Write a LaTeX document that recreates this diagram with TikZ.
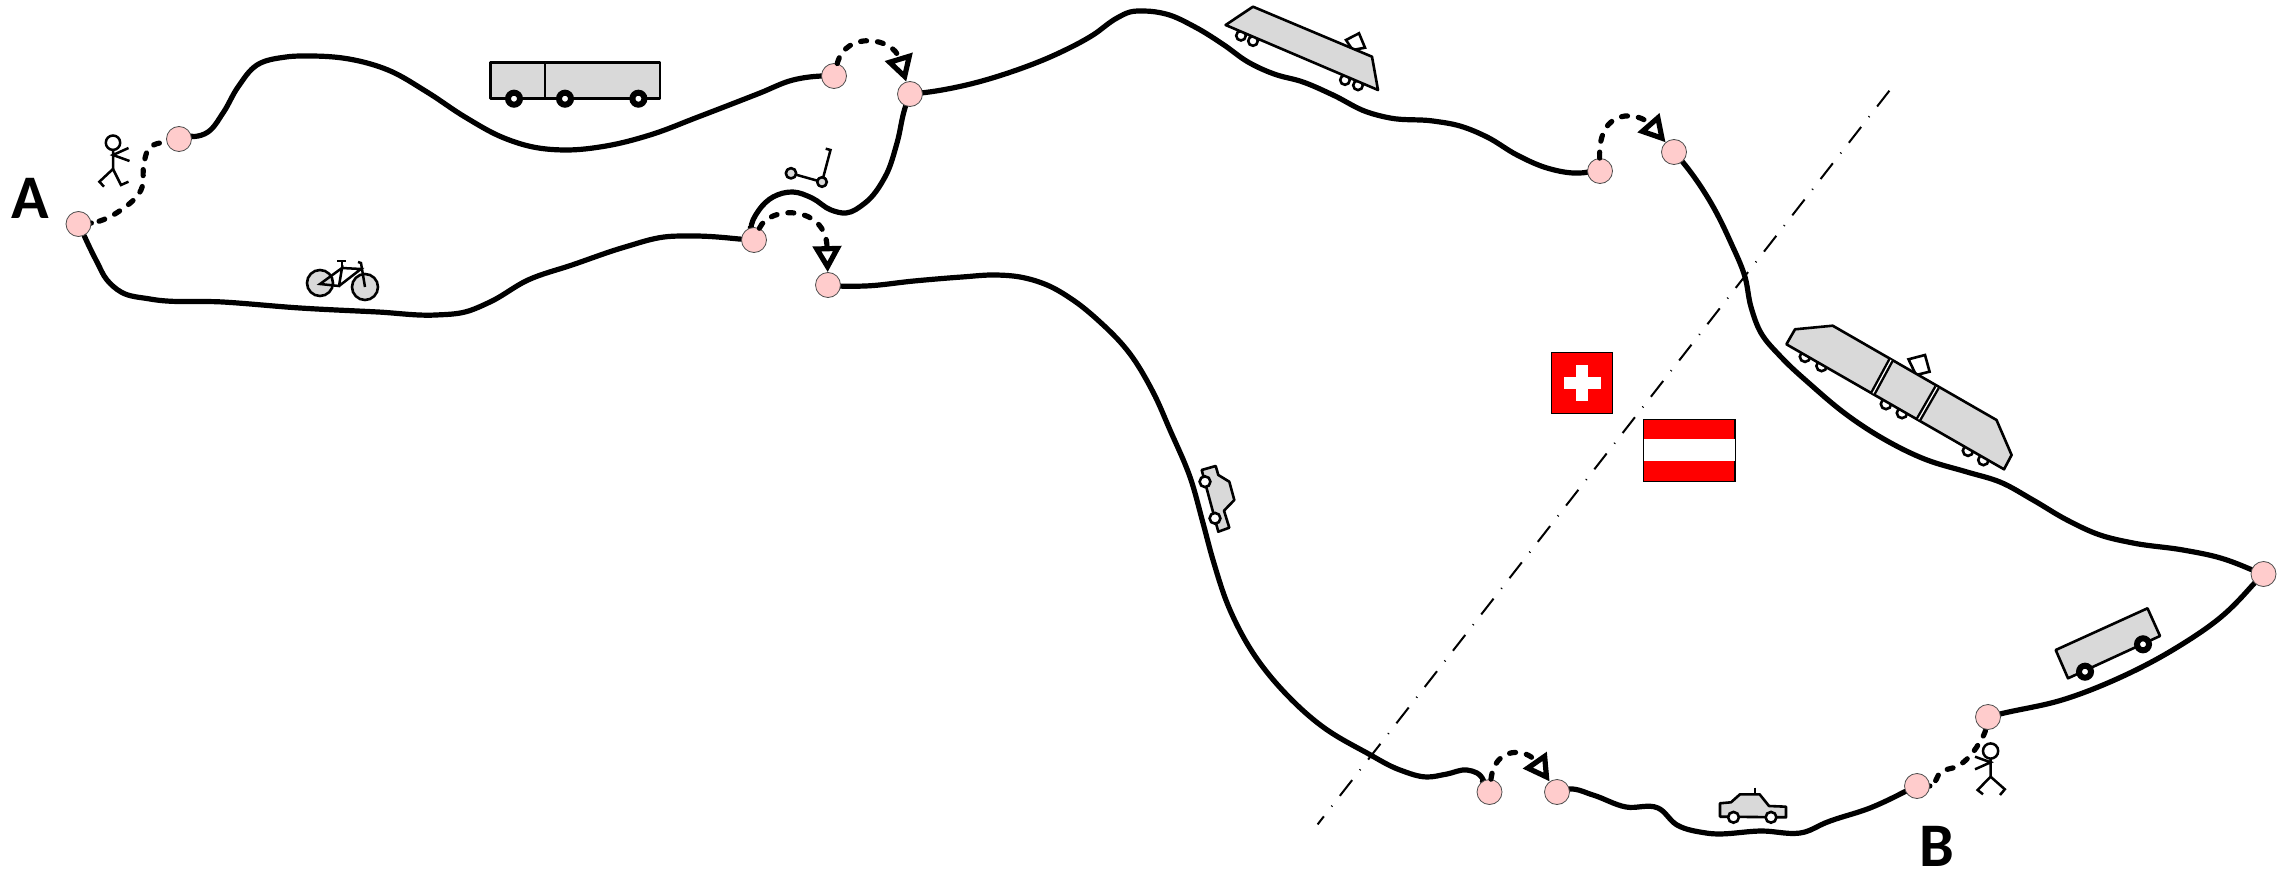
\documentclass[tikz,border=0pt]{standalone}
\usepackage{fontspec}
\setmainfont{Carlito}
\usetikzlibrary{arrows.meta,backgrounds}
\definecolor{stopfill}{HTML}{FFCCCC}
\definecolor{bodygray}{HTML}{D9D9D9}
\definecolor{flagred}{HTML}{FF0000}
% a smooth curve through waypoints, for use as a to path
\newcount\spn
\newcount\spi
\def\spX#1{\csname spx#1\endcsname}
\def\spY#1{\csname spy#1\endcsname}
\newcommand\sptan[1]{%
  \pgfmathtruncatemacro\spia{#1-1}%
  \pgfmathtruncatemacro\spib{#1+1}%
  \ifnum#1=1 \edef\spia{#1}\fi
  \ifnum#1=\spn \edef\spib{#1}\fi
  \pgfmathsetmacro\spax{\spX{#1}-\spX{\spia}}%
  \pgfmathsetmacro\spay{\spY{#1}-\spY{\spia}}%
  \pgfmathsetmacro\spbx{\spX{\spib}-\spX{#1}}%
  \pgfmathsetmacro\spby{\spY{\spib}-\spY{#1}}%
  \ifnum#1=1 \let\sptx\spbx \let\spty\spby
  \else\ifnum#1=\spn \let\sptx\spax \let\spty\spay
  \else
    \pgfmathsetmacro\spda{veclen(\spax,\spay)}%
    \pgfmathsetmacro\spdb{veclen(\spbx,\spby)}%
    \pgfmathsetmacro\sptx{\spax*(\spdb/\spda)+\spbx*(\spda/\spdb)}%
    \pgfmathsetmacro\spty{\spay*(\spdb/\spda)+\spby*(\spda/\spdb)}%
  \fi\fi
  \pgfmathsetmacro\spnn{veclen(\sptx,\spty)}%
  \pgfmathsetmacro\spux{\sptx/\spnn}%
  \pgfmathsetmacro\spuy{\spty/\spnn}%
  \expandafter\xdef\csname spux#1\endcsname{\spux}%
  \expandafter\xdef\csname spuy#1\endcsname{\spuy}%
}
\newcommand\buildspline[1]{%
  \global\spn=0
  \foreach \qx/\qy in {#1}{%
    \global\advance\spn by 1
    \expandafter\xdef\csname spx\the\spn\endcsname{\qx}%
    \expandafter\xdef\csname spy\the\spn\endcsname{\qy}}%
  \spi=1
  \loop\ifnum\spi<\spn\relax
    \expandafter\sptan\expandafter{\the\spi}%
    \advance\spi by 1
  \repeat
  \expandafter\sptan\expandafter{\the\spn}%
  \gdef\splinetail{}%
  \spi=1
  \loop\ifnum\spi<\spn\relax
    \edef\spa{\the\spi}%
    \pgfmathtruncatemacro\spb{\spi+1}%
    \pgfmathsetmacro\spd{veclen(\spX{\spb}-\spX{\spa},\spY{\spb}-\spY{\spa})/3}%
    \pgfmathsetmacro\cax{\spX{\spa}+\csname spux\spa\endcsname*\spd}%
    \pgfmathsetmacro\cay{\spY{\spa}+\csname spuy\spa\endcsname*\spd}%
    \pgfmathsetmacro\cbx{\spX{\spb}-\csname spux\spb\endcsname*\spd}%
    \pgfmathsetmacro\cby{\spY{\spb}-\csname spuy\spb\endcsname*\spd}%
    \ifnum\spb=\spn
      \xdef\splinetail{\splinetail .. controls (\cax,\cay) and (\cbx,\cby) ..}%
    \else
      \xdef\splinetail{\splinetail .. controls (\cax,\cay) and (\cbx,\cby) .. (\spX{\spb},\spY{\spb})}%
    \fi
    \advance\spi by 1
  \repeat
}
\tikzset{
  splineby/.style={/utils/exec={\buildspline{#1}},to path={\splinetail (\tikztotarget)}},
  stopnode/.style={circle,draw=black!70,line width=.4pt,fill=stopfill,minimum size=12.5pt,inner sep=0pt},
  route/.style={draw=black,line width=2.6pt,line cap=round,line join=round},
  walkline/.style={draw=black,line width=2.6pt,line cap=round,dash pattern=on 3pt off 5.5pt},
  hop/.style={draw=black,line width=2.6pt,line cap=round,dash pattern=on 3pt off 5.5pt,-{Triangle[open,length=13pt,width=14pt,line width=2.6pt,sep=0pt]}},
  border/.style={draw=black,line width=1pt,dash pattern=on 10pt off 6.25pt on .5pt off 6.25pt},
  icon/.style={draw=black,line width=1.3pt,fill=bodygray,line join=round},
  stick/.style={draw=black,line width=1.25pt,line join=miter,fill=none},
  whitepart/.style={draw=black,line width=1.3pt,fill=white},
  tyre/.style={draw=black,line width=3pt,fill=white},
  place/.style={font=\fontsize{31pt}{31pt}\selectfont\bfseries,inner sep=0pt}
}
\begin{document}
\begin{tikzpicture}[x=0.5pt,y=-0.5pt]
\useasboundingbox (0,0) rectangle (2288,872);
% stops
\node[stopnode] (n1) at (78.5,224) {};
\node[stopnode] (n2) at (179,139) {};
\node[stopnode] (n3) at (834,76) {};
\node[stopnode] (n4) at (910,94) {};
\node[stopnode] (n5) at (754,240) {};
\node[stopnode] (n6) at (828,285) {};
\node[stopnode] (n7) at (1600,171) {};
\node[stopnode] (n8) at (1674,152) {};
\node[stopnode] (n9) at (1489.5,792) {};
\node[stopnode] (n10) at (1557,792) {};
\node[stopnode] (n11) at (1917,786) {};
\node[stopnode] (n12) at (1988,717) {};
\node[stopnode] (n13) at (2263.5,574) {};
\node[place] (lblA) at (30,198) {A};
\node[place] (lblB) at (1937,846) {B};
\begin{scope}[on background layer]
\coordinate (borderTop) at (1889.4,90.7);
\coordinate (borderBottom) at (1317.6,824.4);
\draw[border] (borderTop) -- (borderBottom);
\draw[route,splineby={179/139,208/132,223/113,238/87,257/65,286/57,310/56,349/59,388/70,427/92,465/117,504/138,533/147,565/150,606/146,650/135,698/117,760/93,793/80,822/76,834/76}] (n2) to (n3);
\draw[route,splineby={910/94,921/93,962/86,1011/72,1059/53,1093/35,1117/18,1130/12,1144/11,1166/14,1195/27,1224/45,1248/62,1277/75,1300/81,1333/95,1367/112,1390/118,1433/121,1460/126,1487/137,1517/155,1547/168,1573/173,1600/171}] (n4) to (n7);
\draw[route,splineby={1674/152,1681/160,1711/203,1731/243,1745/277,1751/307,1761/333,1781/357,1811/385,1847/415,1882/438,1927/460,1967/472,2000/482,2033/500,2067/520,2100/535,2133/543,2183/550,2217/557,2263.5/574}] (n8) to (n13);
\draw[route,splineby={2263.5/574,2221/617,2176/648,2119/678,2062/700,2000/714,1988/717}] (n13) to (n12);
\draw[route,splineby={78.5/224,97/262,107/280,121/292,150/299,223/302,300/308,378/312,436/315,465/312,490/302,528/280,572/265,625/247,664/237,693/236,754/240}] (n1) to (n5);
\draw[route,splineby={754/240,751/230,759/210,773/197,793/192,812/198,831/210,846/213,865/203,885/177,897/143,905/108,910/94}] (n5) to (n4);
\draw[route,splineby={828/285,839/286,865/286,914/281,962/277,996/275,1020/277,1047/285,1073/300,1100/322,1127/350,1153/392,1170/430,1190/477,1203/523,1213/560,1230/610,1253/653,1287/695,1323/727,1367/753,1400/770,1427/777,1447/774,1467/770,1477/773,1489.5/792}] (n6) to (n9);
\draw[route,splineby={1557/792,1570/789,1593/795,1626/807,1658/808,1677/825,1706/833,1762/831,1805/832,1825/823,1870/808,1917/786}] (n10) to (n11);
\draw[walkline,splineby={78.5/224,92/223,121/210,141/190,144/163,148/150,179/139}] (n1) to (n2);
\draw[walkline,splineby={1917/786,1931/786,1941/772,1958/766,1969/757,1978/745,1985/732,1988/717}] (n11) to (n12);
\end{scope}
% change-of-mode hops
\draw[hop] (n3) .. controls (846,30) and (893,38) .. (n4);
\draw[hop] (n5) .. controls (770,205) and (826,205) .. (n6);
\draw[hop] (n7) .. controls (1598,105) and (1640,113) .. (n8);
\draw[hop] (n9) .. controls (1495,745) and (1527,749) .. (n10);
% Swiss flag
\fill[flagred,draw=black,line width=.6pt] (1551.7,352.3) rectangle (1612.7,413.3);
\fill[white] (1564,377) rectangle (1600.7,389);
\fill[white] (1576.3,364.7) rectangle (1588.3,401.3);
% Austrian flag
\fill[flagred,draw=black,line width=.6pt] (1643.3,419.3) rectangle (1735,481.7);
\fill[white] (1643.8,439) rectangle (1734.5,461);
% bus
\draw[icon] (490.5,62.7) rectangle (660,98.7);
\draw[icon] (545,62.7) -- (545,98.7);
\draw[tyre] (514,98.7) circle (3pt);
\draw[tyre] (565,98.7) circle (3pt);
\draw[tyre] (638.4,98.7) circle (3pt);
% bicycle
\draw[icon] (320,283) circle (6.5pt);
\draw[icon] (365,287) circle (6.5pt);
\draw[stick] (320,284) -- (339,286) -- (342,268) -- cycle;
\draw[stick] (342,268) -- (361,269) -- (339,286);
\draw[stick] (342,268) -- (342,261) (337,261) -- (346,261);
\draw[stick] (358,262) -- (361,263) -- (365,287);
% walker 1
\draw[stick] (113,142.7) circle (3.6pt);
\draw[stick] (113,150) -- (113,169) (128.5,148) -- (113,155) -- (129.5,161);
\draw[stick] (104,186.7) -- (99.4,181.7) -- (113,169) -- (121,185) -- (128.5,181.7);
% walker 2
\draw[stick,fill=white] (1990.6,751) circle (3.8pt);
\draw[stick] (1990.6,759) -- (1990.6,776.7) (1975,756.7) -- (1990.6,762.3) -- (1975,769.3);
\draw[stick] (1983,794.3) -- (1977.6,790) -- (1990.6,776.7) -- (2004.8,789.3) -- (2000,795);
% scooter
\draw[stick] (791,173.3) -- (822,182) -- (830.5,150) -- (825.7,148.7);
\draw[icon] (791,173.3) circle (2.6pt);
\draw[icon] (822,182) circle (2.4pt);
% upper-right railcar
\draw[whitepart] (1241,35.7) circle (2.4pt);
\draw[whitepart] (1253,41) circle (2.4pt);
\draw[whitepart] (1345,80) circle (2.4pt);
\draw[whitepart] (1358,85.3) circle (2.4pt);
\draw[whitepart] (1346,40) -- (1359,33.3) -- (1365,47.7) -- (1352.6,50) -- cycle;
\draw[icon] (1253,6.7) -- (1372,56.7) -- (1378,90) -- (1225.6,25) -- cycle;
% long train
\draw[whitepart] (1805,356.7) circle (2.6pt);
\draw[whitepart] (1821.6,366) circle (2.6pt);
\draw[whitepart] (1886,404) circle (2.6pt);
\draw[whitepart] (1902,413) circle (2.6pt);
\draw[whitepart] (1968,450.7) circle (2.6pt);
\draw[whitepart] (1983.4,460) circle (2.6pt);
\draw[whitepart] (1908.5,359.3) -- (1925,355) -- (1929.6,371.7) -- (1916,375) -- cycle;
\draw[icon] (1795,329.3) -- (1832.7,325.7) -- (1996.5,420) -- (2011.6,455) -- (2004,469.3) -- (1786.4,344.3) -- cycle;
\draw[black,line width=3pt] (1891,360) -- (1873,393.3);
\draw[white,line width=.6pt] (1891,360) -- (1873,393.3);
\draw[black,line width=3pt] (1937,387.3) -- (1918.6,419.3);
\draw[white,line width=.6pt] (1937,387.3) -- (1918.6,419.3);
% wagon
\draw[icon] (2147.5,608.3) -- (2160,636) -- (2068,678.3) -- (2055.7,650) -- cycle;
\draw[tyre] (2085,671.7) circle (3pt);
\draw[tyre] (2143,644.3) circle (3pt);
% car, bottom
\draw[stick] (1755,787.7) -- (1755,795);
\draw[icon] (1720,816.7) -- (1720,803.3) -- (1731,802.3) -- (1740,794.3) -- (1759.6,794.3) -- (1769,806) -- (1786,806.7) -- (1786,817.3) -- cycle;
\draw[whitepart] (1733.5,817.3) circle (2.7pt);
\draw[whitepart] (1771,817.3) circle (2.7pt);
% car, on the long road
\draw[icon] (1201.7,470) -- (1215.7,466) -- (1218.3,475) -- (1229.3,481.7) -- (1234.3,500) -- (1224,510.7) -- (1229.3,527.7) -- (1218.3,531.7) -- cycle;
\draw[whitepart] (1205,481.7) circle (2.7pt);
\draw[whitepart] (1215,518.3) circle (2.7pt);
\end{tikzpicture}
\end{document}
